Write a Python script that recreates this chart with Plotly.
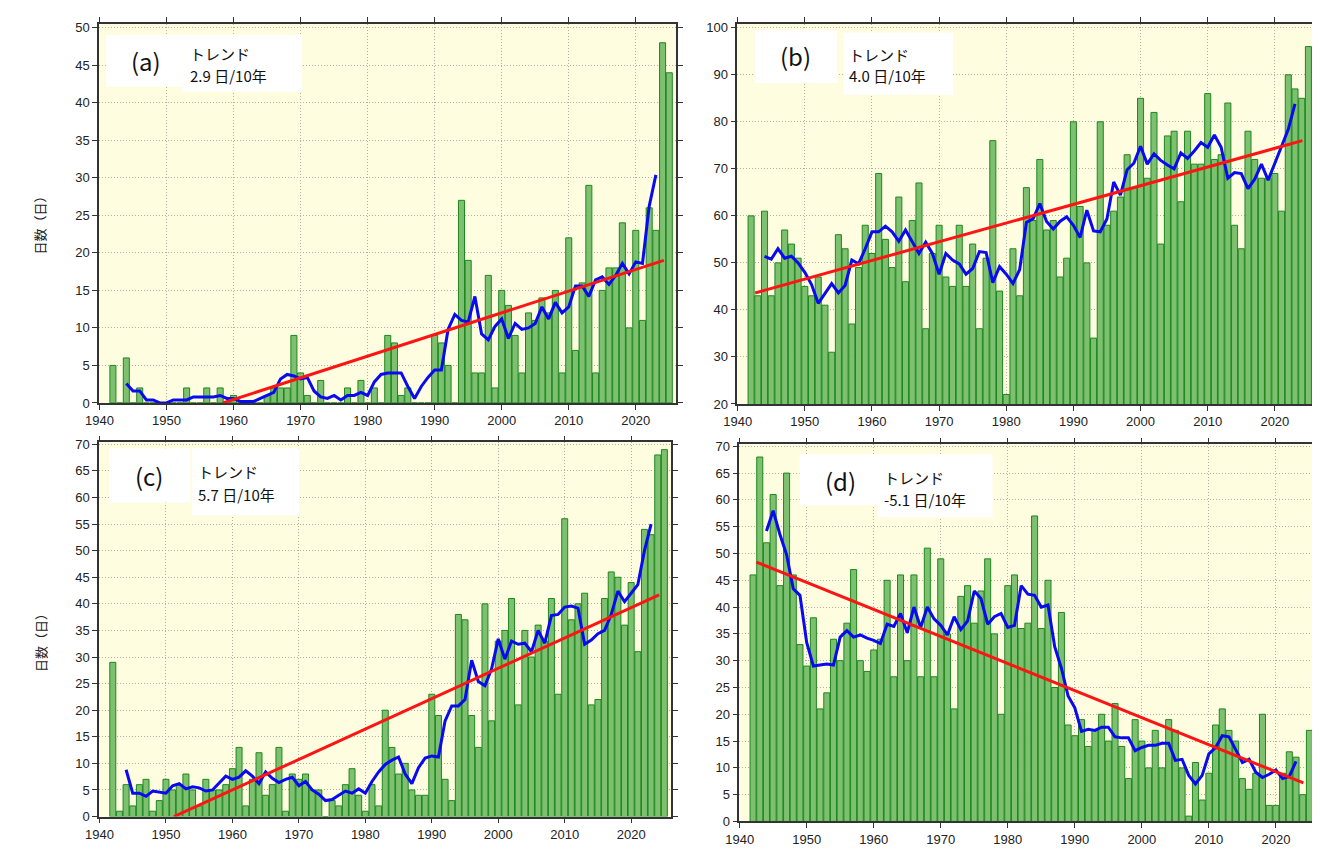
import pandas as pd
import plotly.graph_objects as go

W, H = 1320, 852
years = list(range(1942, 2026))

days_a = [5, 0, 6, 0, 2, 0, 0, 0, 0, 0,
          0, 2, 0, 0, 2, 0, 2, 0, 1, 0,
          0, 0, 0, 1, 2, 2, 2, 9, 4, 1,
          0, 3, 0, 0, 0, 2, 0, 3, 0, 2,
          0, 9, 8, 1, 2, 0, 0, 0, 9, 8,
          5, 0, 27, 19, 4, 4, 17, 2, 15, 13,
          9, 4, 12, 11, 14, 12, 15, 4, 22, 7,
          16, 29, 4, 15, 18, 18, 24, 10, 23, 11,
          26, 23, 48, 44]
days_b = [60, 43, 61, 43, 50, 57, 54, 51, 45, 43,
          47, 41, 31, 56, 53, 37, 49, 58, 52, 69,
          55, 49, 64, 46, 59, 67, 36, 52, 58, 47,
          45, 58, 45, 54, 36, 51, 76, 44, 22, 53,
          43, 66, 59, 72, 57, 59, 47, 51, 80, 62,
          50, 34, 80, 58, 61, 64, 73, 66, 85, 68,
          82, 54, 77, 78, 63, 78, 71, 71, 86, 72,
          73, 84, 58, 53, 78, 72, 68, 68, 69, 61,
          90, 87, 85, 96]
days_c = [29, 1, 6, 2, 6, 7, 1, 3, 7, 5,
          6, 8, 5, 2, 7, 5, 5, 6, 9, 13,
          2, 7, 12, 4, 6, 13, 1, 8, 7, 8,
          5, 5, 0, 3, 2, 6, 9, 4, 1, 6,
          2, 20, 13, 8, 10, 5, 4, 4, 23, 19,
          7, 3, 38, 37, 19, 13, 40, 18, 33, 35,
          41, 21, 35, 30, 36, 33, 41, 23, 56, 37,
          40, 42, 21, 22, 41, 46, 45, 36, 44, 31,
          54, 53, 68, 69]
days_d = [46, 68, 52, 61, 44, 65, 46, 33, 29, 38,
          21, 24, 34, 30, 37, 47, 30, 28, 32, 34,
          45, 27, 46, 30, 46, 27, 51, 27, 49, 35,
          21, 42, 44, 37, 43, 49, 35, 20, 44, 46,
          36, 37, 57, 36, 45, 25, 39, 18, 16, 19,
          14, 17, 20, 15, 22, 14, 8, 19, 15, 10,
          17, 10, 19, 17, 10, 1, 11, 4, 9, 18,
          21, 17, 15, 8, 6, 9, 20, 3, 3, 9,
          13, 12, 5, 17]

# trend line end points
trend_a_x, trend_a_y = [1958.4, 2024.2], [0.0, 19.0]
trend_b_x, trend_b_y = [1942.6, 2024.1], [43.6, 76.0]
trend_c_x, trend_c_y = [1951.2, 2024.2], [0.0, 41.7]
trend_d_x, trend_d_y = [1942.5, 2024.1], [48.4, 7.2]

panel_labels = ["(a)", "(b)", "(c)", "(d)"]
trend_values = ["2.9", "4.0", "5.7", "-5.1"]
x_ticks = [1940, 1950, 1960, 1970, 1980, 1990, 2000, 2010, 2020]
y_title = "日数（日）"

panels = [
    dict(vals=days_a, tx=trend_a_x, ty=trend_a_y, px=(78, 661), py=(11, 396),
         yr=[0, 50.52], ytick=5),
    dict(vals=days_b, tx=trend_b_x, ty=trend_b_y, px=(723, 1307), py=(11, 397),
         yr=[20, 100.84], ytick=10),
    dict(vals=days_c, tx=trend_c_x, ty=trend_c_y, px=(78, 656), py=(436, 816),
         yr=[0, 70.37], ytick=5),
    dict(vals=days_d, tx=trend_d_x, ty=trend_d_y, px=(725, 1308), py=(438, 821),
         yr=[0, 70.37], ytick=5),
]

BAR_FILL = "rgb(124,192,112)"
BAR_EDGE = "rgb(30,135,30)"
BG = "rgb(255,253,224)"
FONT = "Liberation Sans, Arial, sans-serif"
JFONT = "Noto Sans CJK JP, Noto Sans, sans-serif"

fig = go.Figure()
layout = dict(width=W, height=H, margin=dict(l=0, r=0, t=0, b=0),
              paper_bgcolor="white", plot_bgcolor=BG, showlegend=False,
              bargap=0.1)

for i, p in enumerate(panels):
    n = "" if i == 0 else str(i + 1)
    xa, ya = "x" + n, "y" + n
    s = pd.Series(p["vals"], index=years)
    ma = s.rolling(5, center=True).mean().dropna()
    fig.add_trace(go.Bar(x=years, y=p["vals"], width=0.9, xaxis=xa, yaxis=ya,
                         marker=dict(color=BAR_FILL, line=dict(color=BAR_EDGE, width=1))))
    fig.add_trace(go.Scatter(x=list(ma.index), y=list(ma.values), mode="lines",
                             xaxis=xa, yaxis=ya, line=dict(color="rgb(10,10,240)", width=3)))
    fig.add_trace(go.Scatter(x=p["tx"], y=p["ty"], mode="lines", xaxis=xa, yaxis=ya,
                             line=dict(color="rgb(255,20,20)", width=3)))
    common = dict(ticks="outside", ticklen=5, tickwidth=1, tickcolor="#333",
                  showline=True, linecolor="#333", linewidth=1.5, mirror="ticks",
                  showgrid=True, gridcolor="rgb(175,175,165)", griddash="1px,2px",
                  gridwidth=1, zeroline=False,
                  tickfont=dict(family=FONT, size=13, color="#222"))
    layout["xaxis" + n] = dict(domain=[p["px"][0] / W, p["px"][1] / W],
                               range=[1939.95, 2026], tickvals=x_ticks,
                               anchor=ya, **common)
    layout["yaxis" + n] = dict(domain=[1 - p["py"][1] / H, 1 - p["py"][0] / H],
                               range=p["yr"], dtick=p["ytick"], tick0=0,
                               anchor=xa, **common)

fig.update_layout(**layout)


def px2paper(x, y):
    return x / W, 1 - y / H


# white label boxes (pixel geometry)
boxes = [
    [(85, 22, 162, 75), (162, 22, 283, 80)],
    [(741, 17, 824, 71), (830, 20, 941, 83)],
    [(88, 442, 170, 497), (172, 442, 280, 510)],
    [(786, 448, 865, 500), (865, 448, 981, 512)],
]
label_pos = [(125, 48), (782, 43), (128, 470), (827, 475)]
trend_pos = [(168, 41, 63), (834, 42, 63), (176, 466, 489), (869, 472, 494)]

shapes = []
annotations = []
for i in range(4):
    for (x0, y0, x1, y1) in boxes[i]:
        a0, b0 = px2paper(x0, y1)
        a1, b1 = px2paper(x1, y0)
        shapes.append(dict(type="rect", xref="paper", yref="paper", x0=a0, y0=b0,
                           x1=a1, y1=b1, fillcolor="white", line=dict(width=0),
                           layer="above"))
    lx, ly = px2paper(*label_pos[i])
    annotations.append(dict(x=lx, y=ly, xref="paper", yref="paper", text=panel_labels[i],
                            showarrow=False, xanchor="center", yanchor="middle",
                            font=dict(family=JFONT, size=24, color="#111")))
    tx, ty1, ty2 = trend_pos[i]
    ax, ay = px2paper(tx, ty1)
    annotations.append(dict(x=ax, y=ay, xref="paper", yref="paper", text="トレンド",
                            showarrow=False, xanchor="left", yanchor="middle",
                            font=dict(family=JFONT, size=15, color="#111")))
    ax, ay = px2paper(tx, ty2)
    annotations.append(dict(x=ax, y=ay, xref="paper", yref="paper",
                            text=trend_values[i] + " 日/10年",
                            showarrow=False, xanchor="left", yanchor="middle",
                            font=dict(family=JFONT, size=15, color="#111")))

for yc in (212, 636):
    ax, ay = px2paper(18, yc)
    annotations.append(dict(x=ax, y=ay, xref="paper", yref="paper", text=y_title,
                            showarrow=False, textangle=-90, xanchor="center",
                            yanchor="middle", font=dict(family=JFONT, size=13, color="#222")))

fig.update_layout(shapes=shapes, annotations=annotations)
fig.write_html("out.html")
